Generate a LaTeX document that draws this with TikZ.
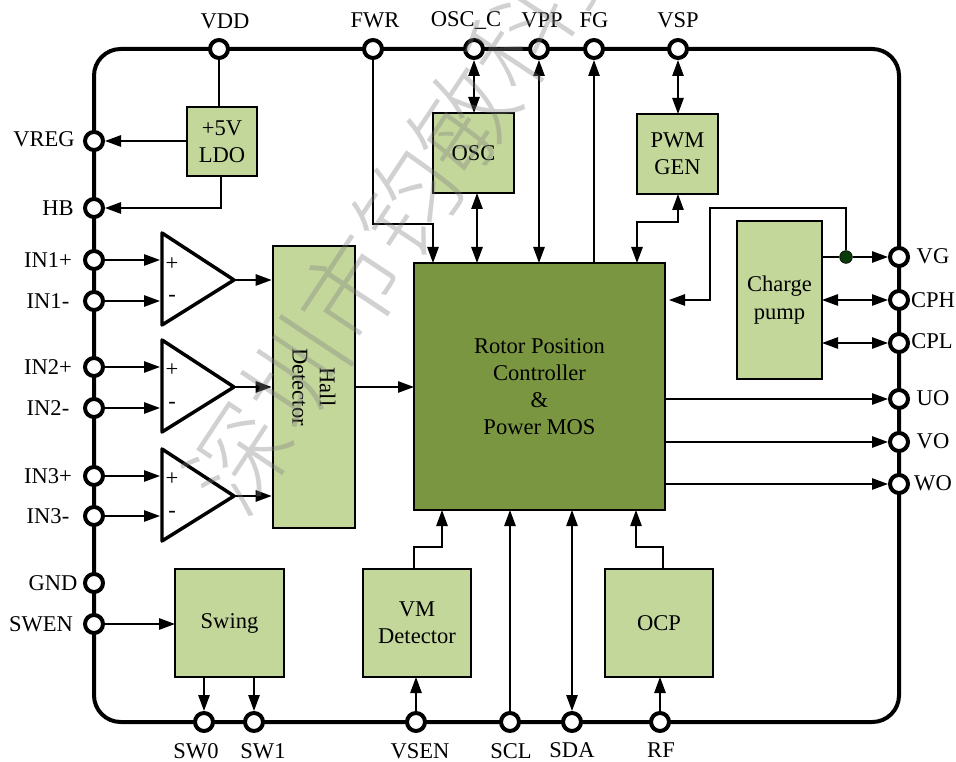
\documentclass[tikz,border=0pt]{standalone}
\usepackage{fontspec}
\setmainfont{Liberation Serif}
\newfontfamily\cjkmark{Noto Sans CJK SC Light}
\usetikzlibrary{arrows.meta,calc}
\definecolor{blocklight}{HTML}{C4D79B}
\definecolor{blockdark}{HTML}{7A9640}
\definecolor{dotgreen}{HTML}{0B3D0B}
\tikzset{
  x=0.75pt,y=-0.75pt,
  every node/.style={font=\fontsize{16.9}{20.5}\selectfont,text=black,inner sep=0pt},
  pin/.style={circle,draw=black,fill=white,line width=3pt,minimum size=13.5pt,inner sep=0pt},
  lab/.style={anchor=center},
  block/.style={draw=black,fill=blocklight,line width=1.5pt,anchor=north west,align=center,inner sep=0pt,outer sep=0pt},
  wire/.style={draw=black,line width=1.25pt},
  arr/.style={wire,-{Triangle[length=12pt,width=8.5pt]}},
  biarr/.style={wire,{Triangle[length=12pt,width=8.5pt]}-{Triangle[length=12pt,width=8.5pt]}},
  amp/.style={draw=black,line width=2.6pt,line join=round,fill=white},
  sign/.style={font=\fontsize{16.9}{20}\selectfont}
}
\newcommand{\sizedblock}[6]{% name,x0,y0,x1,y1,text
  \path let \p1=(#2,#3),\p2=(#4,#5) in
    node[block,minimum width=\x2-\x1,minimum height=\y1-\y2] (#1) at (#2,#3) {#6};
}
\begin{document}
\begin{tikzpicture}
\useasboundingbox (0,0) rectangle (956,762);
\draw[black,line width=3pt,rounded corners=20pt] (94,49) rectangle (899,722);

% blocks
\sizedblock{LDO}{187}{107}{257}{176}{+5V\\LDO}
\sizedblock{OSC}{433}{113}{514}{193}{OSC}
\sizedblock{PWM}{637}{114}{718}{194}{PWM\\GEN}
\path let \p1=(737,221),\p2=(822,379) in
  node[block,line width=0.9pt,minimum width=\x2-\x1,minimum height=\y1-\y2] (CP) at (737,221) {Charge\\pump};
\sizedblock{Hall}{273}{246}{355}{528}{}
\node[rotate=-90,align=center] (HallText) at (Hall.center) {Hall\\Detector};
\path let \p1=(414,263),\p2=(665,510) in
  node[block,fill=blockdark,minimum width=\x2-\x1,minimum height=\y1-\y2,font=\fontsize{16.9}{20.2}\selectfont] (Main) at (414,263) {Rotor Position\\Controller\\\&\\Power MOS};
\sizedblock{Swing}{175}{569}{284}{677}{Swing}
\sizedblock{VM}{363}{569}{471}{677}{VM\\Detector}
\sizedblock{OCP}{605}{569}{713}{677}{OCP}

% pins
\foreach \n/\x/\y in {VDD/219/49,FWR/373/49,OSCC/474/49,VPP/539/49,FG/594/49,VSP/678/49,
  VREG/94/141,HB/94/208,INAP/94/260,INAM/94/301,INBP/94/367,INBM/94/408,INCP/94/476,INCM/94/516,GND/94/583,SWEN/94/624,
  VG/899/257,CPH/899/300,CPL/899/343,UO/899/399,VO/899/442,WO/899/484,
  SWZ/204/722,SWO/254/722,VSEN/416/722,SCL/510/722,SDA/572/722,RF/660/722}
  \node[pin] (\n) at (\x,\y) {};

% pin labels
\foreach \n/\x/\y/\t in {lVDD/225/21/VDD,lFWR/375/20/FWR,lOSCC/466/20/OSC\_C,lVPP/542/20/VPP,lFG/594/20/FG,lVSP/678/20/VSP,
  lVREG/44/139/VREG,lHB/58/208/HB,lINAP/48/260/IN1+,lINAM/48/301/IN1-,lINBP/48/367/IN2+,lINBM/48/408/IN2-,lINCP/48/476/IN3+,lINCM/48/516/IN3-,lGND/53/583/GND,lSWEN/41/624/SWEN,
  lVG/933/256/VG,lCPH/933/300/CPH,lCPL/932/341/CPL,lUO/933/398/UO,lVO/933/441/VO,lWO/933/483/WO,
  lSWZ/196/751/SW0,lSWO/263/751/SW1,lVSEN/420/751/VSEN,lSCL/511/751/SCL,lSDA/572/750/SDA,lRF/661/750/RF}
  \node[lab] (\n) at (\x,\y) {\t};

% amplifiers
\foreach \i/\ya/\yb/\yc/\yp/\ym in {A/233/280/325/264/298,B/340/387/432/370/405,C/449/496/541/479/514}{
  \coordinate (T\i top) at (162,\ya);
  \coordinate (T\i out) at (234,\yb);
  \coordinate (T\i bot) at (162,\yc);
  \coordinate (T\i p) at (162,\yp);
  \coordinate (T\i m) at (162,\ym);
  \draw[amp] (T\i top) -- (T\i out) -- (T\i bot) -- cycle;
  \node[sign] (S\i p) at (172,\yp) {+};
  \node[sign] (S\i m) at (172,\ym) {-};
  \draw[arr,shorten >=1pt] (T\i out) -- (Hall.west |- T\i out);
}
\foreach \i/\n in {A/INA,B/INB,C/INC}{
  \draw[arr,shorten >=1.5pt] (\n P) -- (T\i p |- \n P);
  \draw[arr,shorten >=1.5pt] (\n M) -- (T\i m |- \n M);
}

% top connectors
\draw[wire] (VDD) -- (VDD |- LDO.north);
\draw[arr] (LDO.west |- VREG) -- (VREG);
\coordinate (ldoout) at (221,176);
\draw[arr] (ldoout) |- (HB);
\coordinate (fwrin) at (433,263);
\draw[arr] (FWR) |- (433,224) -- (fwrin);
\draw[biarr] (OSCC) -- (OSCC |- OSC.north);
\coordinate (oscb) at (477,193);
\draw[biarr] (oscb) -- (oscb |- Main.north);
\draw[biarr] (VPP) -- (VPP |- Main.north);
\draw[arr] (FG |- Main.north) -- (FG);
\draw[biarr] (VSP) -- (VSP |- PWM.north);
\coordinate (pwmin) at (637,263);
\draw[biarr] (VSP |- PWM.south) |- (637,222) -- (pwmin);

% charge pump
\node[circle,fill=dotgreen,draw=black,line width=0.5pt,minimum size=9.5pt] (Dot) at (846,257) {};
\draw[wire] (CP.east |- VG) -- (Dot);
\draw[arr] (Dot) -- (VG);
\coordinate (mainr) at (669,300);
\draw[arr] (Dot) |- (710,208) |- (mainr);
\draw[biarr] (CP.east |- CPH) -- (CPH);
\draw[biarr] (CP.east |- CPL) -- (CPL);

% main outputs
\draw[arr] (Main.east |- UO) -- (UO);
\draw[arr] (Main.east |- VO) -- (VO);
\draw[arr] (Main.east |- WO) -- (WO);
\draw[arr] (Hall.east |- TBout) -- (Main.west |- TBout);

% bottom
\draw[arr] (SWEN) -- (Swing.west |- SWEN);
\draw[arr] (SWZ |- Swing.south) -- (SWZ);
\draw[arr] (SWO |- Swing.south) -- (SWO);
\draw[arr] (VSEN) -- (VSEN |- VM.south);
\coordinate (vmt) at (414,569);
\draw[arr] (vmt) |- (442,547) -- (442,510);
\draw[arr] (SCL) -- (SCL |- Main.south);
\draw[biarr] (SDA) -- (SDA |- Main.south);
\draw[arr] (RF) -- (RF |- OCP.south);
\coordinate (ocpt) at (663,569);
\draw[arr] (ocpt) |- (636,547) -- (636,510);

% watermark
\node[rotate=56.5,text=black!50,opacity=0.36,font={\cjkmark\fontsize{76}{76}\selectfont}] (Mark) at (407,204) {深圳市钧敏科技};
\end{tikzpicture}
\end{document}
